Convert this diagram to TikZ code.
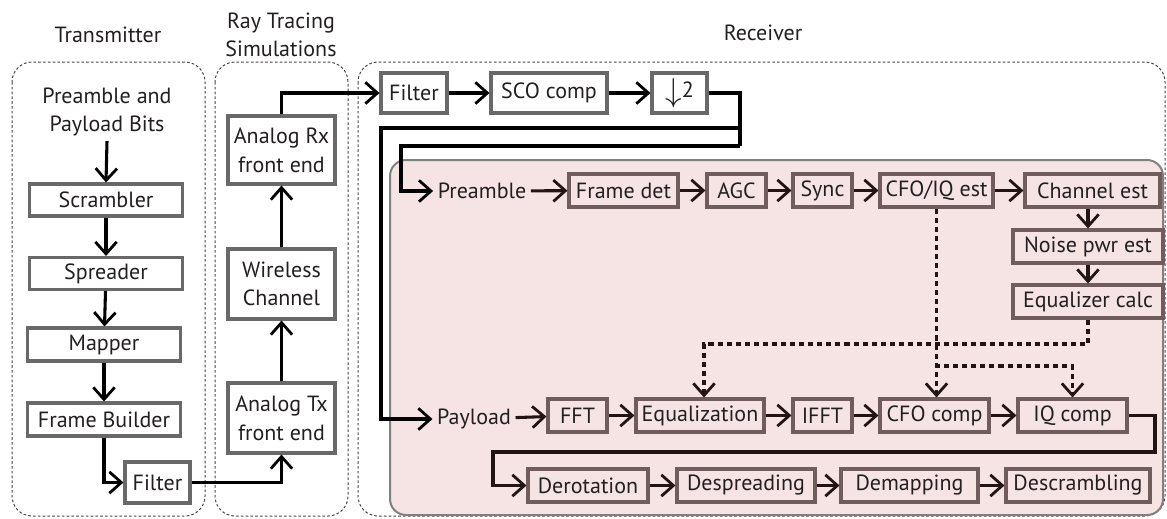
\documentclass[tikz,border=0pt]{standalone}
\usepackage{fontspec}
\setmainfont{PT Sans}
\usetikzlibrary{arrows.meta}

\begin{document}
\begin{tikzpicture}[x=0.75pt,y=0.75pt,yscale=-1,xscale=1,
    every node/.style={font=\fontsize{16.5}{21.5}\selectfont,text={rgb,255:red,35;green,31;blue,32}},
    blk/.style={draw={rgb,255:red,105;green,105;blue,105},line width=2.3pt,fill=white,inner sep=0pt,align=center},
    rblk/.style={draw={rgb,255:red,112;green,92;blue,92},line width=2.3pt,inner sep=0pt,align=center},
    grp/.style={draw={rgb,255:red,70;green,70;blue,70},line width=0.75pt,dash pattern={on 2pt off 1.6pt},rounded corners=15pt},
    flow/.style={line width=2.3pt,-{Straight Barb[length=9pt,width=16pt,line width=2.1pt]}},
    rflow/.style={flow,draw={rgb,255:red,35;green,20;blue,20}},
    dflow/.style={rflow,dash pattern={on 3.8pt off 3pt}},
    wire/.style={line width=2.3pt},
  ]
    \useasboundingbox (0,0) rectangle (1167,518);

    %Shape: Rectangle [Transmitter]
    \draw[grp] (12,62) rectangle (205,516);
    %Shape: Rectangle [Ray tracing]
    \draw[grp] (215,62) rectangle (348,516);
    %Shape: Rectangle [Receiver]
    \draw[grp] (358,62) rectangle (1165,516);
    %Shape: Rectangle [Receiver core]
    \draw[draw={rgb,255:red,128;green,128;blue,128},line width=1.5pt,fill={rgb,255:red,246;green,228;blue,228},rounded corners=12pt] (390,160) rectangle (1163,515);

    % Text Node
    \node (ttx) at (108,35) {Transmitter};
    % Text Node
    \node[align=center] (trt) at (281,35) {Ray Tracing\\Simulations};
    % Text Node
    \node (trx) at (763,33) {Receiver};

    % Transmitter
    \node[align=center] (bits) at (107,112) {Preamble and\\Payload Bits};
    \node[blk,minimum width=114.75pt,minimum height=24pt] (scr) at (106,200) {Scrambler};
    \node[blk,minimum width=114.75pt,minimum height=24pt] (spr) at (106,273.5) {Spreader};
    \node[blk,minimum width=114.75pt,minimum height=24.75pt] (map) at (104,344.5) {Mapper};
    \node[blk,minimum width=114.75pt,minimum height=24.75pt] (fb) at (104,419.5) {Frame Builder};
    \node[blk,minimum width=48.75pt,minimum height=30.75pt] (tfilt) at (157.5,482.5) {Filter};

    % Ray tracing
    \node[blk,minimum width=80.25pt,minimum height=51pt] (arx) at (281.5,150) {Analog Rx\\front end};
    \node[blk,minimum width=80.25pt,minimum height=52.5pt] (wch) at (281.5,284) {Wireless\\Channel};
    \node[blk,minimum width=80.25pt,minimum height=52.5pt] (atx) at (281.5,418) {Analog Tx\\front end};

    % Receiver front
    \node[blk,minimum width=49.5pt,minimum height=30pt] (rfilt) at (414,93) {Filter};
    \node[blk,minimum width=87pt,minimum height=30pt] (sco) at (549,93) {SCO comp};
    \node[blk,minimum width=41.25pt,minimum height=30pt] (dec) at (679.5,93) {{\fontsize{24}{24}\selectfont$\downarrow$}\raisebox{3pt}{2}};

    % Preamble branch
    \node (pre) at (482,191) {Preamble};
    \node[rblk,minimum width=81.75pt,minimum height=24.75pt] (fdet) at (623.5,190.5) {Frame det};
    \node[rblk,minimum width=44.25pt,minimum height=24.75pt] (agc) at (736.5,190.5) {AGC};
    \node[rblk,minimum width=44.25pt,minimum height=24.75pt] (sync) at (822.5,190.5) {Sync};
    \node[rblk,minimum width=84.75pt,minimum height=24.75pt] (cfoe) at (936.5,190.5) {CFO/IQ est};
    \node[rblk,minimum width=101.25pt,minimum height=24.75pt] (che) at (1092.5,190.5) {Channel est};
    \node[rblk,minimum width=112.5pt,minimum height=24.75pt] (npe) at (1088,246.5) {Noise pwr est};
    \node[rblk,minimum width=112.5pt,minimum height=24.75pt] (eqc) at (1088,301.5) {Equalizer calc};

    % Payload branch
    \node (pay) at (474,419) {Payload};
    \node[rblk,minimum width=44.25pt,minimum height=24.75pt] (fft) at (577.5,415.5) {FFT};
    \node[rblk,minimum width=96pt,minimum height=24.75pt] (eqz) at (700,415.5) {Equalization};
    \node[rblk,minimum width=44.25pt,minimum height=24.75pt] (ifft) at (822.5,415.5) {IFFT};
    \node[rblk,minimum width=81.75pt,minimum height=24.75pt] (cfoc) at (934.5,415.5) {CFO comp};
    \node[rblk,minimum width=81.75pt,minimum height=24.75pt] (iqc) at (1072.5,415.5) {IQ comp};
    \node[rblk,minimum width=90pt,minimum height=24.75pt] (der) at (588,485.5) {Derotation};
    \node[rblk,minimum width=103.5pt,minimum height=24.75pt] (dsp) at (746,485.5) {Despreading};
    \node[rblk,minimum width=102.75pt,minimum height=24.75pt] (dmp) at (909.5,485.5) {Demapping};
    \node[rblk,minimum width=108pt,minimum height=24.75pt] (dsc) at (1078,485.5) {Descrambling};

    % bend points
    \coordinate (jt) at (740,128);
    \coordinate (jb) at (740,146);
    \coordinate (ybend) at (381,128);
    \coordinate (pbend) at (401,146);
    \coordinate (qr) at (1155,452);
    \coordinate (ql) at (493,452);
    \coordinate (cbr) at (935,366);
    \coordinate (ebr) at (704,344);

    %Straight Lines [Transmitter]
    \draw[flow] (bits.south) -- (scr.north);
    \draw[flow] (scr) -- (spr);
    \draw[flow] (spr) -- (map);
    \draw[flow] (map) -- (fb);
    \draw[flow] (fb.south) |- (tfilt.west);
    \draw[flow] (tfilt.east) -| (atx.south);
    %Straight Lines [Ray tracing]
    \draw[flow] (atx) -- (wch);
    \draw[flow] (wch) -- (arx);
    \draw[flow] (arx.north) |- (rfilt.west);
    %Straight Lines [Receiver]
    \draw[flow] (rfilt) -- (sco);
    \draw[flow] (sco) -- (dec);
    \draw[wire] (dec.east) -| (jb);
    \draw[flow] (jt) -- (ybend) |- (pay.west);
    \draw[flow] (jb) -- (pbend) |- (pre.west);

    \draw[rflow] (pre) -- (fdet);
    \draw[rflow] (fdet) -- (agc);
    \draw[rflow] (agc) -- (sync);
    \draw[rflow] (sync) -- (cfoe);
    \draw[rflow] (cfoe) -- (che);
    \draw[rflow] (che.south -| npe.north) -- (npe.north);
    \draw[rflow] (npe) -- (eqc);

    \draw[rflow] (pay) -- (fft);
    \draw[rflow] (fft) -- (eqz);
    \draw[rflow] (eqz) -- (ifft);
    \draw[rflow] (ifft) -- (cfoc);
    \draw[rflow] (cfoc) -- (iqc);
    \draw[rflow] (iqc.east) -| (qr) -- (ql) |- (der.west);
    \draw[rflow] (der) -- (dsp);
    \draw[rflow] (dsp) -- (dmp);
    \draw[rflow] (dmp) -- (dsc);

    %Dashed Lines
    \draw[dflow] (cfoe.south) -- (cfoe.south |- cfoc.north);
    \draw[dflow] (cbr) -| (iqc.north);
    \draw[dflow] (eqc.south) |- (ebr) -- (ebr |- eqz.north);

\end{tikzpicture}
\end{document}
